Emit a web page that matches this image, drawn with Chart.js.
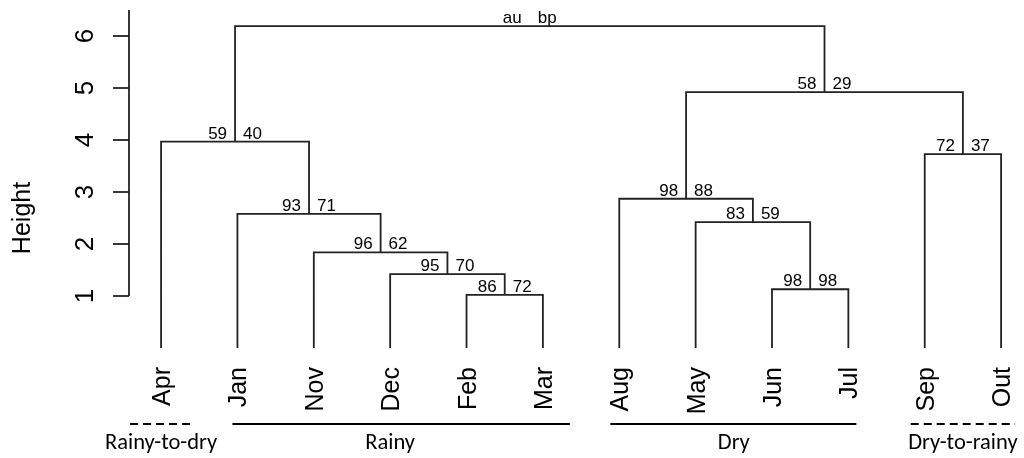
<!DOCTYPE html>
<html>
<head>
<meta charset="utf-8">
<script src="https://cdn.jsdelivr.net/npm/chart.js@4/dist/chart.umd.min.js"></script>
<style>
  html, body { margin: 0; padding: 0; background: #ffffff; }
  #wrap { width: 1024px; height: 458px; }
</style>
</head>
<body>
<div id="wrap"><canvas id="c" width="1024" height="458"></canvas></div>
<script>
// ---- data ----
const leafLabels = ['Apr','Jan','Nov','Dec','Feb','Mar','Aug','May','Jun','Jul','Sep','Out'];
// R-style merge matrix: negative = leaf (1-based), positive = earlier merge (1-based)
const mergeLeft  = [-5, -4, -3, -2, -1, -9, -8, -7, -11, 8, 5];
const mergeRight = [-6,  1,  2,  3,  4, -10, 6,  7, -12, 9, 10];
const mergeHeights = [1.02, 1.42, 1.84, 2.58, 3.97, 1.13, 2.42, 2.87, 3.73, 4.92, 6.19];
const auValues = ['86','95','96','93','59','98','83','98','72','58','au'];
const bpValues = ['72','70','62','71','40','98','59','88','37','29','bp'];
const yTicks = [1, 2, 3, 4, 5, 6];
const yTitle = 'Height';
const groupNames = ['Rainy-to-dry', 'Rainy', 'Dry', 'Dry-to-rainy'];
const groupFirstLeaf = [1, 2, 7, 11];
const groupLastLeaf  = [1, 6, 10, 12];
const groupDashed = [true, false, false, true];

// ---- build dendrogram geometry (data units) ----
const nodeX = [];
const nodeH = [];
function childX(c) { return c < 0 ? -c : nodeX[c - 1]; }
function childH(c) { return c < 0 ? 0 : nodeH[c - 1]; }
for (let i = 0; i < mergeLeft.length; i++) {
  nodeX[i] = (childX(mergeLeft[i]) + childX(mergeRight[i])) / 2;
  nodeH[i] = mergeHeights[i];
}
const linkData = [];
for (let i = 0; i < mergeLeft.length; i++) {
  const l = mergeLeft[i], r = mergeRight[i], h = mergeHeights[i];
  linkData.push({x: childX(l), y: childH(l)});
  linkData.push({x: childX(l), y: h});
  linkData.push({x: childX(r), y: h});
  linkData.push({x: childX(r), y: childH(r)});
  linkData.push({x: NaN, y: NaN});
}

// ---- styling / layout ----
const INK = '#222222';
const groupPad = [[31, 31], [5, 27], [9, 8], [14, 14]];

const overlay = {
  id: 'overlay',
  afterDatasetsDraw(chart) {
    const ctx = chart.ctx;
    const xs = chart.scales.x, ys = chart.scales.y;
    const area = chart.chartArea;
    ctx.save();
    ctx.fillStyle = '#000';
    ctx.strokeStyle = INK;
    ctx.lineWidth = 1.8;

    // y axis line and ticks
    const axX = area.left;
    ctx.beginPath();
    ctx.moveTo(axX, ys.getPixelForValue(yTicks[0]));
    ctx.lineTo(axX, area.top);
    ctx.stroke();
    ctx.font = '26px "Liberation Sans", Arial, sans-serif';
    yTicks.forEach(t => {
      const py = ys.getPixelForValue(t);
      ctx.beginPath();
      ctx.moveTo(axX - 16, py);
      ctx.lineTo(axX, py);
      ctx.stroke();
      ctx.save();
      ctx.translate(axX - 36, py);
      ctx.rotate(-Math.PI / 2);
      ctx.textAlign = 'center';
      ctx.textBaseline = 'alphabetic';
      ctx.fillText(String(t), 0, 0);
      ctx.restore();
    });
    // y title
    ctx.save();
    ctx.font = '25px "Liberation Sans", Arial, sans-serif';
    ctx.translate(30, (area.top + area.bottom) / 2 + 39);
    ctx.rotate(-Math.PI / 2);
    ctx.textAlign = 'center';
    ctx.textBaseline = 'alphabetic';
    ctx.fillText(yTitle, 0, 0);
    ctx.restore();

    // leaf labels
    ctx.font = '25px "Liberation Sans", Arial, sans-serif';
    leafLabels.forEach((lab, i) => {
      const px = xs.getPixelForValue(i + 1);
      ctx.save();
      ctx.translate(px + 9, area.bottom + 19);
      ctx.rotate(-Math.PI / 2);
      ctx.textAlign = 'right';
      ctx.textBaseline = 'alphabetic';
      ctx.fillText(lab, 0, 0);
      ctx.restore();
    });

    // au / bp labels
    ctx.font = '17px "Liberation Sans", Arial, sans-serif';
    ctx.textBaseline = 'alphabetic';
    for (let i = 0; i < mergeLeft.length; i++) {
      const px = xs.getPixelForValue(nodeX[i]);
      const py = ys.getPixelForValue(nodeH[i]) - 3;
      ctx.textAlign = 'right';
      ctx.fillText(auValues[i], px - 8, py);
      ctx.textAlign = 'left';
      ctx.fillText(bpValues[i], px + 8, py);
    }

    // group bars and names
    const lineY = 424;
    groupNames.forEach((name, g) => {
      const x0 = xs.getPixelForValue(groupFirstLeaf[g]) - groupPad[g][0];
      const x1 = xs.getPixelForValue(groupLastLeaf[g]) + groupPad[g][1];
      ctx.beginPath();
      ctx.setLineDash(groupDashed[g] ? [8, 5] : []);
      ctx.lineWidth = 1.8;
      ctx.strokeStyle = '#000';
      ctx.moveTo(x0, lineY);
      ctx.lineTo(x1, lineY);
      ctx.stroke();
      ctx.setLineDash([]);
      const cx = (xs.getPixelForValue(groupFirstLeaf[g]) + xs.getPixelForValue(groupLastLeaf[g])) / 2;
      ctx.font = '22.5px Carlito, Calibri, Lato, sans-serif';
      ctx.textAlign = 'center';
      ctx.fillStyle = '#000';
      ctx.fillText(name, cx, 449);
    });
    ctx.restore();
  }
};

new Chart(document.getElementById('c'), {
  type: 'scatter',
  data: {
    datasets: [{
      data: linkData,
      showLine: true,
      spanGaps: false,
      borderColor: INK,
      borderWidth: 1.8,
      pointRadius: 0,
      tension: 0,
      clip: false
    }]
  },
  options: {
    responsive: false,
    animation: false,
    devicePixelRatio: 1,
    layout: { padding: { left: 129, right: 0, top: 10, bottom: 110 } },
    plugins: { legend: { display: false }, tooltip: { enabled: false } },
    scales: {
      x: { type: 'linear', min: 0.58, max: 12.3, display: false },
      y: { type: 'linear', min: 0, max: 6.5, display: false }
    }
  },
  plugins: [overlay]
});
</script>
</body>
</html>
